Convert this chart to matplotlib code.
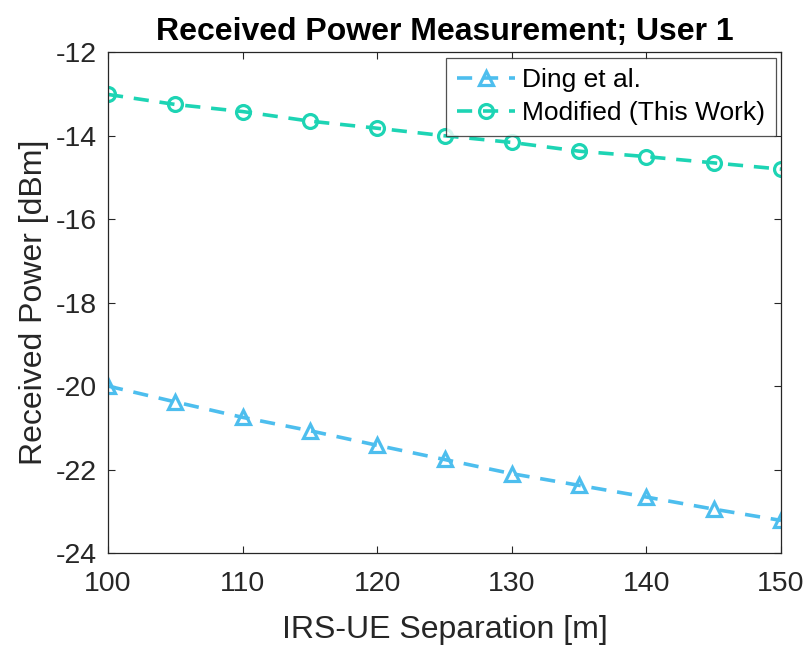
import matplotlib
matplotlib.use("Agg")
import matplotlib.pyplot as plt

distance = [100, 105, 110, 115, 120, 125, 130, 135, 140, 145, 150]
ding = [-20.0, -20.38, -20.75, -21.07, -21.42, -21.76, -22.1, -22.38, -22.66, -22.95, -23.22]
modified = [-13.01, -13.25, -13.42, -13.65, -13.82, -14.0, -14.16, -14.37, -14.5, -14.65, -14.8]
xticks = [100, 110, 120, 130, 140, 150]
yticks = [-24, -22, -20, -18, -16, -14, -12]

plt.rcParams['font.family'] = ['Liberation Sans', 'DejaVu Sans']
plt.rcParams['axes.unicode_minus'] = False

fig = plt.figure(figsize=(8.11, 6.49), dpi=100)
ax = fig.add_axes([0.1332, 0.148, 0.8298, 0.7714])

c_ding = '#4DBEEE'
c_mod = '#1DD4B4'
ax.plot(distance, ding, linestyle='--', color=c_ding, linewidth=2.6, marker='^',
        markersize=10, markerfacecolor='none', markeredgewidth=2.3,
        dashes=(4.2, 3), label='Ding et al.')
ax.plot(distance, modified, linestyle='--', color=c_mod, linewidth=2.6, marker='o',
        markersize=10, markerfacecolor='none', markeredgewidth=2.3,
        dashes=(4.2, 3), label='Modified (This Work)')

ax.set_xlim(100, 150)
ax.set_ylim(-24, -12)
ax.set_xticks(xticks)
ax.set_yticks(yticks)
ax.tick_params(direction='in', top=True, right=True, labelsize=20.5, colors='#262626',
               length=5, width=0.8)
ax.tick_params(axis='x', pad=13)
ax.tick_params(axis='y', pad=8)
for s in ax.spines.values():
    s.set_color('#262626')
    s.set_linewidth(0.9)

ax.set_xlabel('IRS-UE Separation [m]', fontsize=23, color='#262626', labelpad=13)
ax.set_ylabel('Received Power [dBm]', fontsize=23, color='#262626', labelpad=5)
ax.set_title('Received Power Measurement; User 1', fontsize=23, fontweight='bold', pad=9)

leg = ax.legend(loc='upper right', fontsize=19, frameon=True, fancybox=False,
                edgecolor='#262626', borderpad=0.4, handlelength=2.2, handletextpad=0.27,
                labelspacing=0.35, borderaxespad=0.2)
leg.get_frame().set_linewidth(0.9)

fig.savefig('out.png', dpi=100)
